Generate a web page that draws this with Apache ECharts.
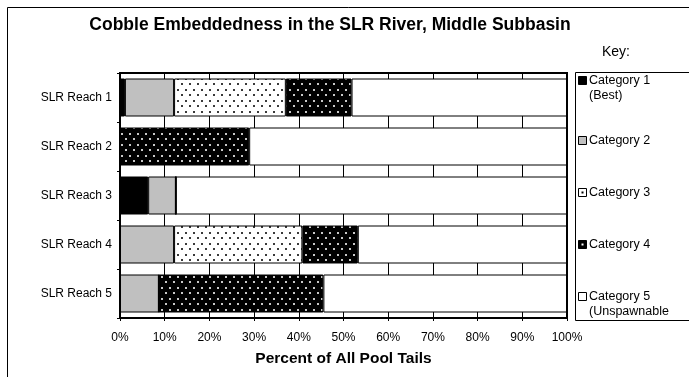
<!DOCTYPE html>
<html>
<head>
<meta charset="utf-8">
<script src="https://cdn.jsdelivr.net/npm/echarts@6/dist/echarts.min.js"></script>
<style>
  html, body { margin: 0; padding: 0; background: #fff; }
  #chart { width: 689px; height: 377px; }
</style>
</head>
<body>
<div id="chart"></div>
<script>
// Reaches, top to bottom
const reaches = ['SLR Reach 1', 'SLR Reach 2', 'SLR Reach 3', 'SLR Reach 4', 'SLR Reach 5'];

// Percent of pool tails in each embeddedness category, per reach
const category1 = [1.1, 0, 6.3, 0, 0];
const category2 = [11.0, 0, 6.2, 12.1, 8.7];
const category3 = [25.0, 0, 0, 28.7, 0];
const category4 = [14.7, 28.9, 0, 12.4, 36.8];
const category5 = [48.2, 71.1, 87.5, 46.8, 54.5];

const seriesNames = ['Category 1', 'Category 2', 'Category 3', 'Category 4', 'Category 5'];
const keyLabels = ['Category 1\n(Best)', 'Category 2', 'Category 3', 'Category 4', 'Category 5\n(Unspawnable'];
const percentTicks = [0, 10, 20, 30, 40, 50, 60, 70, 80, 90, 100];

// Dotted fills: light dots on dark, dark dots on light
function dotPattern(bg, dot) {
  const c = document.createElement('canvas');
  c.width = 8; c.height = 11;
  const g = c.getContext('2d');
  g.fillStyle = bg; g.fillRect(0, 0, 8, 11);
  g.fillStyle = dot;
  g.fillRect(1, 1, 2, 2);
  g.fillRect(5, 6, 2, 2);
  return { image: c, repeat: 'repeat' };
}

const fills = [
  '#000000',
  '#c0c0c0',
  dotPattern('#ffffff', '#3a3a3a'),
  dotPattern('#000000', '#c8c8c8'),
  '#ffffff'
];
const dataSets = [category1, category2, category3, category4, category5];

const chart = echarts.init(document.getElementById('chart'), null, { renderer: 'canvas' });

const series = seriesNames.map((name, i) => ({
  name: name,
  type: 'bar',
  stack: 'total',
  barWidth: 38,
  data: dataSets[i],
  itemStyle: { color: fills[i], borderColor: '#000', borderWidth: 1 },
  emphasis: { disabled: true },
  silent: true
}));

// Key box on the right
const keyY = [81, 141, 193, 245, 297];
const keyGraphics = [
  { type: 'rect', shape: { x: 575.5, y: 72.5, width: 130, height: 248 }, style: { fill: '#fff', stroke: '#000', lineWidth: 1 } },
  { type: 'text', style: { x: 616, y: 52, text: 'Key:', font: '14px Arial', fill: '#000', textAlign: 'center', textVerticalAlign: 'middle' } }
];
keyLabels.forEach((label, i) => {
  const y = keyY[i];
  keyGraphics.push({ type: 'rect', shape: { x: 578.5, y: y - 4.5, width: 8, height: 8 },
    style: { fill: i === 2 ? '#fff' : (i === 3 ? '#000' : fills[i]), stroke: '#000', lineWidth: 1 } });
  if (i === 2 || i === 3) {
    keyGraphics.push({ type: 'rect', shape: { x: 581.5, y: y - 1.5, width: 2, height: 2 },
      style: { fill: i === 2 ? '#000' : '#fff' } });
  }
  keyGraphics.push({ type: 'text', style: { x: 589, y: y - 8, text: label, font: '12.5px Arial', fill: '#000', lineHeight: 15, textVerticalAlign: 'top' } });
});

chart.setOption({
  animation: false,
  backgroundColor: '#fff',
  title: {
    text: 'Cobble Embeddedness in the SLR River, Middle Subbasin',
    left: 325, top: 11, textAlign: 'center',
    textStyle: { fontFamily: 'Arial', fontWeight: 'bold', fontSize: 17.5, color: '#000' }
  },
  grid: {
    left: 120, top: 73, width: 447, height: 245,
    show: true, borderColor: '#000', borderWidth: 2, backgroundColor: '#fff'
  },
  xAxis: {
    type: 'value', min: 0, max: 100, interval: 10,
    name: 'Percent of All Pool Tails', nameLocation: 'middle', nameGap: 33,
    nameTextStyle: { fontFamily: 'Arial', fontWeight: 'bold', fontSize: 15.5, color: '#000' },
    axisLine: { show: true, lineStyle: { color: '#000', width: 2 } },
    axisTick: { show: true, length: 3, lineStyle: { color: '#000' } },
    axisLabel: {
      margin: 14, fontFamily: 'Arial', fontSize: 12, color: '#000',
      formatter: v => percentTicks.includes(v) ? v + '%' : ''
    },
    splitLine: { show: true, lineStyle: { color: '#000', width: 1 } }
  },
  yAxis: {
    type: 'category', data: reaches, inverse: true,
    axisLine: { show: true, lineStyle: { color: '#000', width: 2 } },
    axisTick: { show: true, length: 3, lineStyle: { color: '#000' } },
    axisLabel: { margin: 8, fontFamily: 'Arial', fontSize: 12, color: '#000' }
  },
  series: series,
  graphic: [
    { type: 'rect', z: -10, shape: { x: 7.5, y: 7.5, width: 1000, height: 1000 }, style: { fill: 'none', stroke: '#000', lineWidth: 1 } },
    ...keyGraphics
  ]
});
</script>
</body>
</html>
